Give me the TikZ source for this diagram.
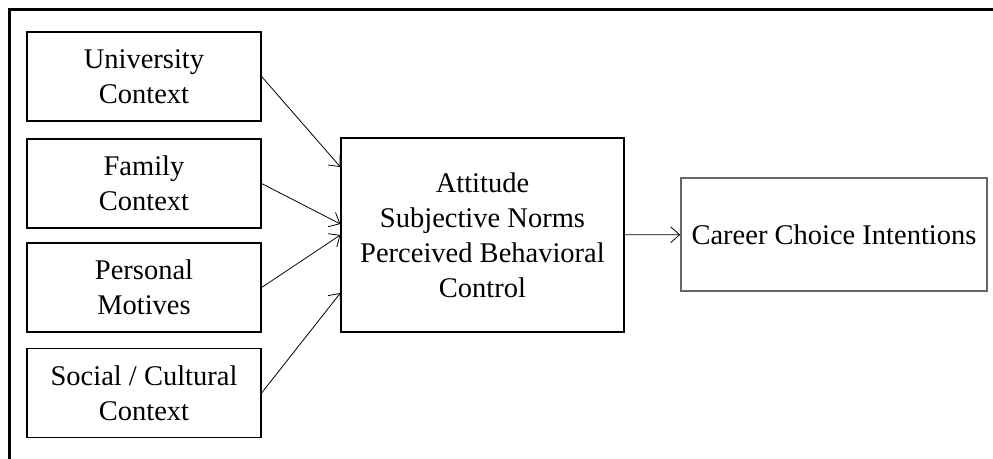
\documentclass[tikz,border=0pt]{standalone}
\usepackage{fontspec}
\setmainfont{Liberation Serif}
\usetikzlibrary{arrows.meta}
\begin{document}
\begin{tikzpicture}[x=0.5pt,y=-0.5pt,
        >={Straight Barb[length=4.5pt,width=8pt]},
        factor/.style={draw,line width=0.6pt,minimum width=117pt,minimum height=44.5pt,
            inner sep=0pt,align=center,font=\fontsize{14.25pt}{17.5pt}\selectfont}]
        \useasboundingbox (0,0) rectangle (993,459);
        \draw[line width=1.5pt] (993,9.5) -- (9.5,9.5) -- (9.5,459);

        \node[factor] (university) at (144,76.5) {University\\Context};
        \node[factor] (family) at (144,183.5) {Family\\Context};
        \node[factor] (personal) at (144,287.5) {Personal\\Motives};
        \node[factor] (social) at (144,393) {Social / Cultural\\Context};

        \node[factor,minimum width=141.5pt,minimum height=97pt] (attitude) at (482.5,235)
            {Attitude\\Subjective Norms\\Perceived Behavioral\\Control};
        \node[factor,draw=black!60,line width=0.8pt,minimum width=153pt,minimum height=56.5pt]
            (career) at (834,234.5) {Career Choice Intentions};

        \draw[->] (university.east) -- ([yshift=34pt]attitude.west);
        \draw[->] (family.east) -- ([yshift=5.5pt]attitude.west);
        \draw[->] (personal.east) -- (attitude.west);
        \draw[->] (social.east) -- ([yshift=-29pt]attitude.west);
        \draw[->] (attitude) -- (career);
    \end{tikzpicture}
\end{document}
